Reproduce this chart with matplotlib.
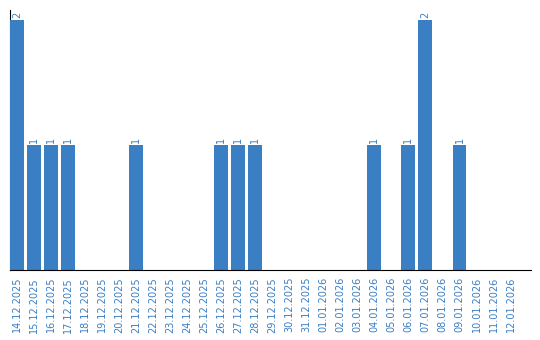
import matplotlib
matplotlib.use("Agg")
import matplotlib.pyplot as plt

# Daten
dates = ["14.12.2025", "15.12.2025", "16.12.2025", "17.12.2025", "18.12.2025",
         "19.12.2025", "20.12.2025", "21.12.2025", "22.12.2025", "23.12.2025",
         "24.12.2025", "25.12.2025", "26.12.2025", "27.12.2025", "28.12.2025",
         "29.12.2025", "30.12.2025", "31.12.2025", "01.01.2026", "02.01.2026",
         "03.01.2026", "04.01.2026", "05.01.2026", "06.01.2026", "07.01.2026",
         "08.01.2026", "09.01.2026", "10.01.2026", "11.01.2026", "12.01.2026"]
counts = [2, 1, 1, 1, 0, 0, 0, 1, 0, 0,
          0, 0, 1, 1, 1, 0, 0, 0, 0, 0,
          0, 1, 0, 1, 2, 0, 1, 0, 0, 0]

blue = "#3a7ec4"

fig = plt.figure(figsize=(5.4, 3.4), dpi=100)
ax = fig.add_axes([10 / 540, 70 / 340, 521 / 540, 260 / 340])

x = list(range(len(dates)))
ax.bar(x, counts, width=0.82, color=blue, zorder=3)

# Werte über den Balken
for xi, v in zip(x, counts):
    if v > 0:
        ax.text(xi, v + 0.02, str(v), rotation=90, ha="center", va="bottom",
                fontsize=7, color=blue)

ax.set_xlim(-0.41, 30.2)
ax.set_ylim(0, 2.08)
ax.set_xticks(x)
ax.set_xticklabels(dates, rotation=90, fontsize=7, color=blue)
ax.tick_params(axis="x", length=0, pad=5)
ax.set_yticks([])
ax.spines["top"].set_visible(False)
ax.spines["right"].set_visible(False)
ax.spines["left"].set_color("black")
ax.spines["bottom"].set_color("black")
ax.spines["bottom"].set_zorder(4)

fig.savefig("out.png", dpi=100)
